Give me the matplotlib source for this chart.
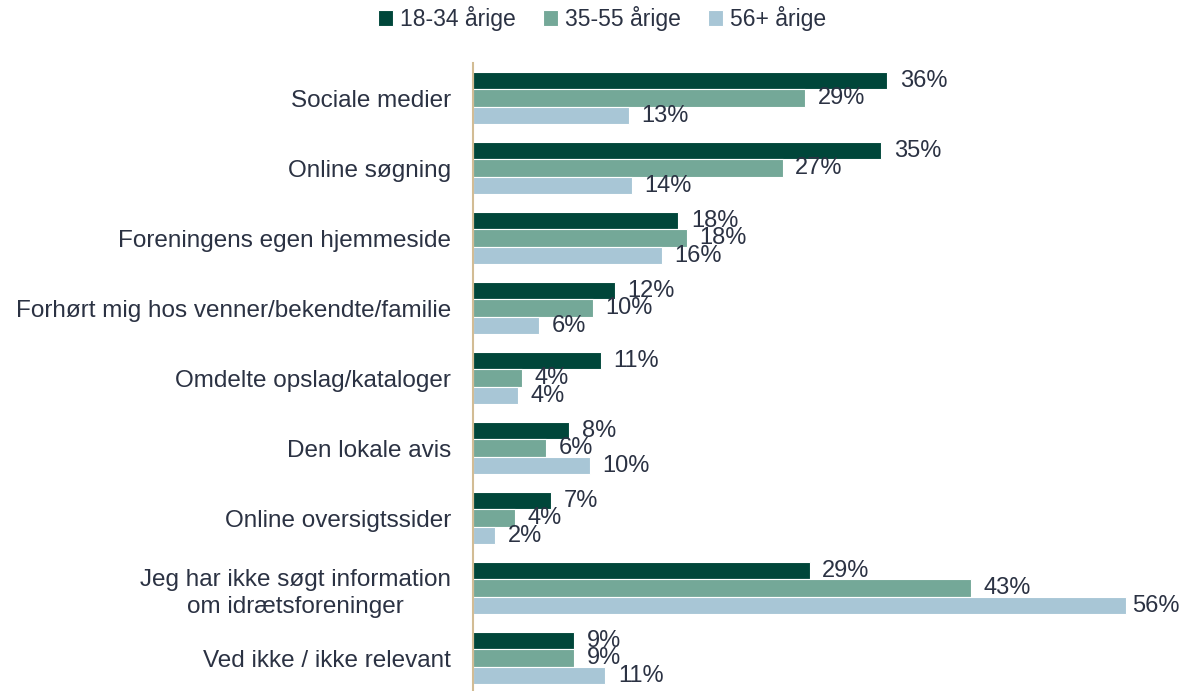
import matplotlib.pyplot as plt
import numpy as np

plt.rcParams['font.family'] = ['Liberation Sans', 'DejaVu Sans']

categories = [
    "Sociale medier",
    "Online søgning",
    "Foreningens egen hjemmeside",
    "Forhørt mig hos venner/bekendte/familie",
    "Omdelte opslag/kataloger",
    "Den lokale avis",
    "Online oversigtssider",
    "Jeg har ikke søgt information\nom idrætsforeninger",
    "Ved ikke / ikke relevant",
]
series_names = ["18-34 årige", "35-55 årige", "56+ årige"]
# shares in percent (labels show them rounded)
young = [35.7, 35.2, 17.7, 12.2, 11.0, 8.3, 6.7, 29.0, 8.7]
middle = [28.6, 26.7, 18.4, 10.3, 4.2, 6.3, 3.6, 42.9, 8.7]
old = [13.4, 13.7, 16.3, 5.7, 3.9, 10.1, 1.9, 56.3, 11.4]
colors = ["#00463a", "#74a898", "#a8c6d6"]
text_color = "#2b3243"

fig = plt.figure(figsize=(11.85, 6.91), dpi=100)
ax = fig.add_axes([0.3992, 0.0, 0.5875, 0.9088])

y = np.arange(len(categories))
h = 0.25
for i, (vals, name) in enumerate(zip([young, middle, old], series_names)):
    bars = ax.barh(y + (i - 1) * h, vals, height=h, color=colors[i],
                   edgecolor="white", linewidth=0.8, label=name)
    texts = ax.bar_label(bars, labels=[f"{v:.0f}%" for v in vals], padding=9,
                         fontsize=17, color=text_color)
    # the longest bar's label is squeezed in so it stays inside the figure
    for t, v in zip(texts, vals):
        if v > 50:
            t.xyann = (4, 0)

ax.set_xlim(0, 60)
ax.set_ylim(8.47, -0.5)
ax.set_yticks(y)
ax.set_yticklabels(categories, fontsize=17.5, color=text_color,
                   multialignment="center", linespacing=1.3)
ax.tick_params(axis="y", length=0, pad=16)
ax.set_xticks([])
for s in ["top", "right", "bottom"]:
    ax.spines[s].set_visible(False)
ax.spines["left"].set_color("#d2bc94")
ax.spines["left"].set_linewidth(1.5)

fig.legend(loc="center", bbox_to_anchor=(0.508, 0.973), ncol=3,
           frameon=False, fontsize=16.5, handlelength=0.65, handleheight=0.65,
           handletextpad=0.3, columnspacing=1.2, labelcolor=text_color)

fig.savefig("out.png", dpi=100)
